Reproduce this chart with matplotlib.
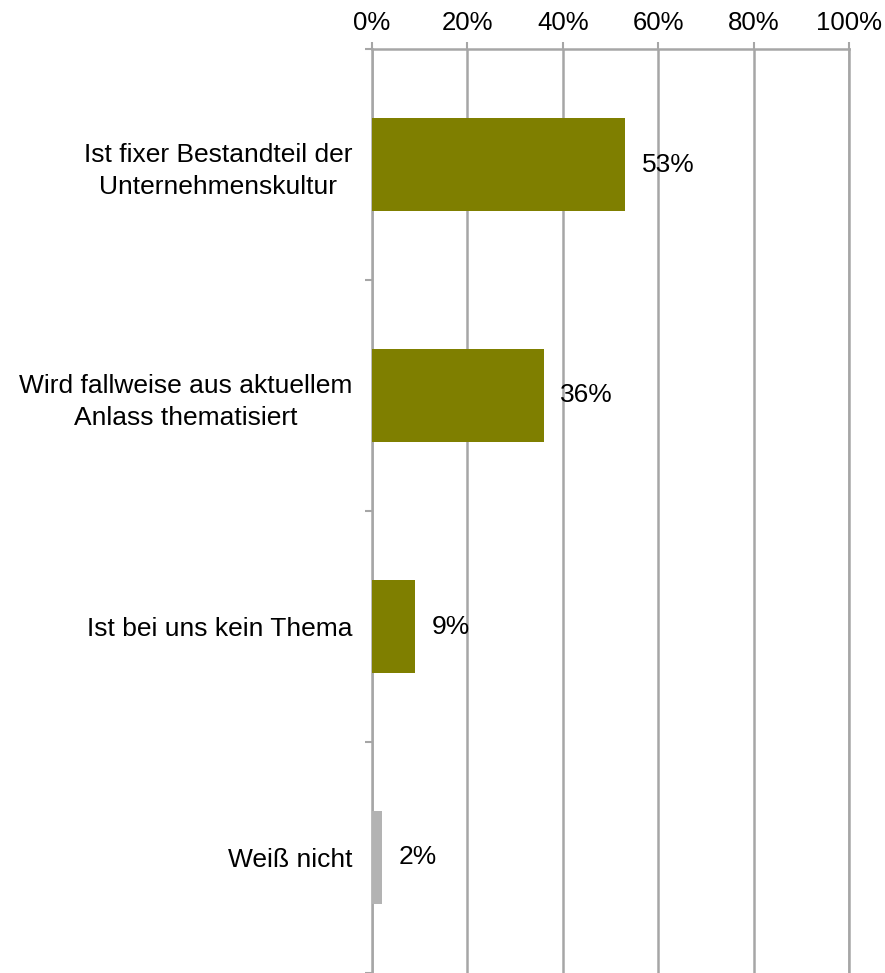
import matplotlib
matplotlib.use("Agg")
import matplotlib.pyplot as plt
from matplotlib.ticker import FixedLocator

plt.rcParams['font.family'] = ['Liberation Sans', 'DejaVu Sans']

categories = [
    "Ist fixer Bestandteil der\nUnternehmenskultur",
    "Wird fallweise aus aktuellem\nAnlass thematisiert",
    "Ist bei uns kein Thema",
    "Weiß nicht",
]
values = [53, 36, 9, 2]
bar_colors = ["#7f7f00", "#7f7f00", "#7f7f00", "#b3b3b3"]
xtick_values = [0, 20, 40, 60, 80, 100]
xtick_labels = ["0%", "20%", "40%", "60%", "80%", "100%"]

grid_color = "#a6a6a6"

fig = plt.figure(figsize=(8.85, 9.73), dpi=100)
ax = fig.add_axes([372 / 885, 0.0, (849 - 372) / 885, 1 - 49 / 973])

ypos = list(range(len(categories)))
ax.barh(ypos, values, height=0.4, color=bar_colors, zorder=3)

for y, v in zip(ypos, values):
    ax.annotate(f"{v}%", xy=(v, y), xytext=(12, 0), textcoords="offset points",
                ha="left", va="center", fontsize=19, color="black", zorder=4)

ax.set_xlim(0, 100)
ax.set_ylim(len(categories) - 0.5, -0.5)

ax.xaxis.tick_top()
ax.set_xticks(xtick_values)
ax.set_xticklabels(xtick_labels, fontsize=18.5)
ax.tick_params(axis="x", direction="out", length=5, width=1.5, color=grid_color, pad=5)
ax.grid(axis="x", color=grid_color, linewidth=1.8, zorder=0)

ax.set_yticks(ypos)
ax.set_yticklabels(categories, fontsize=19, multialignment="center", linespacing=1.41)
ax.tick_params(axis="y", which="major", length=0, pad=14)
ax.yaxis.set_minor_locator(FixedLocator([y + 0.5 for y in ypos[:-1]] + [-0.5, len(categories) - 0.5]))
ax.tick_params(axis="y", which="minor", direction="out", length=5, width=1.5, color=grid_color)

for side in ["left", "top", "right"]:
    ax.spines[side].set_color(grid_color)
    ax.spines[side].set_linewidth(1.8)
ax.spines["bottom"].set_visible(False)

fig.savefig("out.png", dpi=100)
